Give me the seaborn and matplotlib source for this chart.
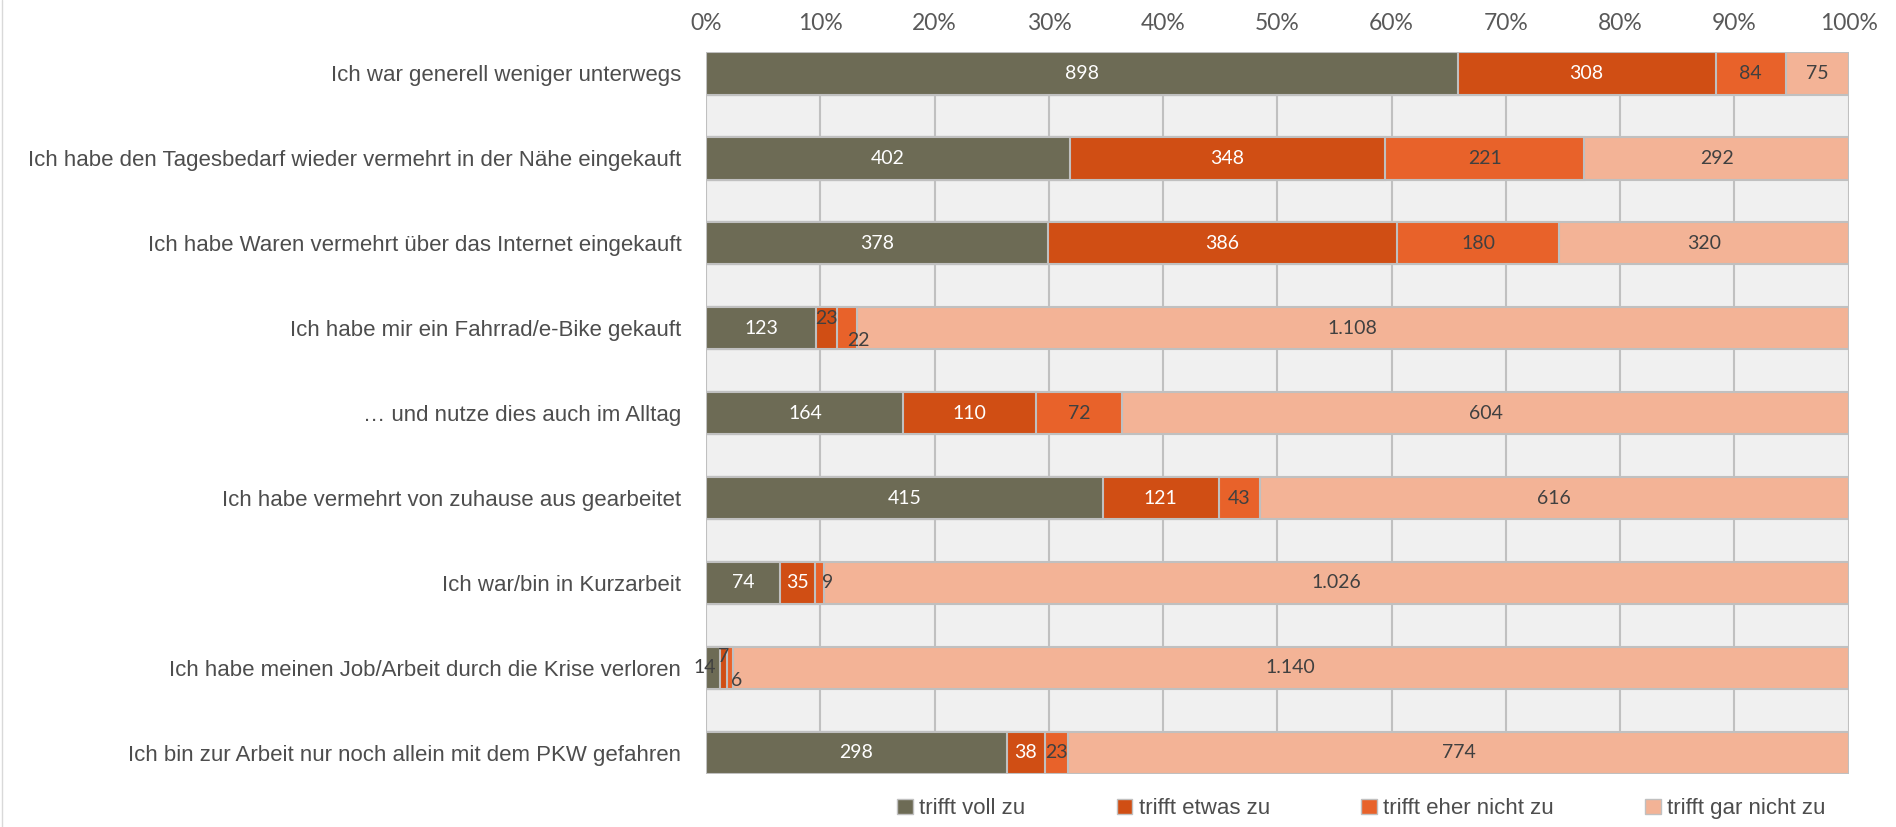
import numpy as np
import pandas as pd
import matplotlib
matplotlib.use("Agg")
import matplotlib.pyplot as plt
import seaborn as sns
from matplotlib.patches import Patch
from matplotlib.lines import Line2D

# data
statements = [
    "Ich war generell weniger unterwegs",
    "Ich habe den Tagesbedarf wieder vermehrt in der Nähe eingekauft",
    "Ich habe Waren vermehrt über das Internet eingekauft",
    "Ich habe mir ein Fahrrad/e-Bike gekauft",
    "… und nutze dies auch im Alltag",
    "Ich habe vermehrt von zuhause aus gearbeitet",
    "Ich war/bin in Kurzarbeit",
    "Ich habe meinen Job/Arbeit durch die Krise verloren",
    "Ich bin zur Arbeit nur noch allein mit dem PKW gefahren",
]
voll = [898, 402, 378, 123, 164, 415, 74, 14, 298]
etwas = [308, 348, 386, 23, 110, 121, 35, 7, 38]
eher_nicht = [84, 221, 180, 22, 72, 43, 9, 6, 23]
gar_nicht = [75, 292, 320, 1108, 604, 616, 1026, 1140, 774]
series_names = ["trifft voll zu", "trifft etwas zu", "trifft eher nicht zu", "trifft gar nicht zu"]
colors = ["#6d6b55", "#d04e14", "#e8622a", "#f3b396"]
text_colors = ["white", "white", "#404040", "#404040"]

counts = np.array([voll, etwas, eher_nicht, gar_nicht], dtype=float)
totals = counts.sum(axis=0)
shares = counts / totals
cum = shares.cumsum(axis=0)

# offsets (points) for labels of tiny segments
label_offsets = {
    (3, 1): (0, 7), (3, 2): (8, -9),
    (6, 2): (6, 0),
    (7, 0): (-6, 0), (7, 1): (0, 8), (7, 2): (5, -9),
}

sns.set_theme(style="white")
plt.rcParams["font.family"] = ["Liberation Sans Narrow", "Liberation Sans", "DejaVu Sans"]

fig = plt.figure(figsize=(18.96, 8.27), dpi=100)
ax = fig.add_axes([0.3725, 0.064, 0.6025, 0.873])
ax.set_facecolor("#f0f0f0")

# stacked bars: draw cumulative totals from the back to the front
for i in range(3, -1, -1):
    df = pd.DataFrame({"stmt": statements, "val": cum[i]})
    sns.barplot(data=df, x="val", y="stmt", orient="h", color=colors[i],
                saturation=1, width=0.5, edgecolor="#c0c0c0", linewidth=1.5,
                ax=ax, zorder=3)

for i in range(4):
    for r in range(len(statements)):
        xc = cum[i][r] - shares[i][r] / 2
        off = label_offsets.get((r, i), (0, 0))
        col = text_colors[i] if off == (0, 0) else "#404040"
        ax.annotate(f"{int(counts[i][r]):,}".replace(",", "."), (xc, r),
                    xytext=off, textcoords="offset points",
                    ha="center", va="center", fontsize=14, color=col,
                    family=["Lato", "DejaVu Sans"], zorder=5)

ax.set_xlim(0, 1)
ax.set_ylim(8.25, -0.25)
ax.xaxis.tick_top()
ax.set_xticks(np.arange(0, 1.01, 0.1))
ax.set_xticklabels([f"{int(round(t * 100))}%" for t in np.arange(0, 1.01, 0.1)],
                   fontsize=16.5, color="#595959", family=["Lato", "DejaVu Sans"])
ax.tick_params(axis="x", length=0, pad=13)
ax.tick_params(axis="y", length=0, pad=18)
for lbl in ax.get_yticklabels():
    lbl.set_fontsize(16)
    lbl.set_color("#4d4d4d")
ax.set_xlabel("")
ax.set_ylabel("")
ax.grid(axis="x", color="#c0c0c0", linewidth=1.5, zorder=0)
ax.set_axisbelow(True)
for s in ax.spines.values():
    s.set_visible(False)

handles = [Patch(facecolor=c, edgecolor="#c0c0c0", label=n) for c, n in zip(colors, series_names)]
leg = fig.legend(handles=handles, loc="center", bbox_to_anchor=(0.718, 0.022), ncol=4,
                 frameon=False, fontsize=16, handlelength=0.7, handleheight=0.7,
                 handletextpad=0.3, columnspacing=4.1)
for t in leg.get_texts():
    t.set_color("#4d4d4d")

fig.add_artist(Line2D([0.001, 0.001], [0, 1], transform=fig.transFigure, color="#d9d9d9", lw=1))

fig.savefig("out.png", dpi=100)
